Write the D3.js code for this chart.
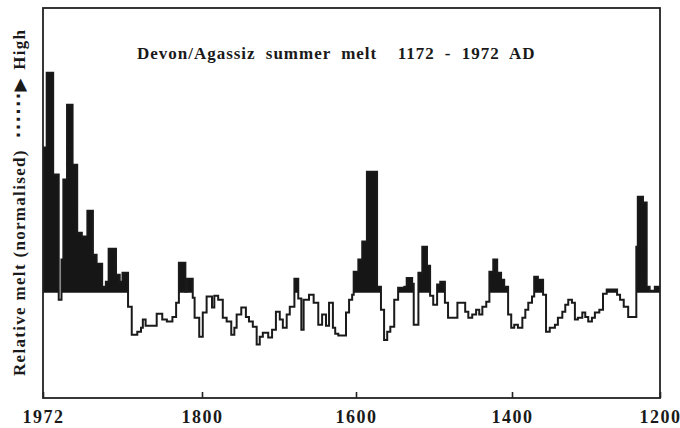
<!DOCTYPE html>
<html>
    <head>
        <meta charset="utf-8">
        <title>Devon/Agassiz summer melt</title>
        <style>
            body {
                margin: 0;
                background: #fff;
                font-family: "Liberation Serif", "DejaVu Serif", serif;
            }
            svg text {
                font-weight: bold;
                fill: #1a1a1a;
            }
        </style>
        <script src="https://d3js.org/d3.v7.min.js"></script>
    </head>
    <body>
        <svg></svg>
        <script>
            // step start years (AD) and relative melt, baseline = 0
            const years = [
                1972, 1968, 1961, 1955, 1952, 1950, 1946, 1940, 1935, 1930,
                1924, 1918, 1914, 1908, 1904, 1901, 1893, 1889, 1886, 1880,
                1876, 1870, 1866, 1864, 1861, 1849, 1843, 1838, 1832, 1828,
                1825, 1818, 1816, 1810, 1808, 1803, 1799, 1794, 1787, 1784,
                1779, 1773, 1768, 1762, 1758, 1755, 1749, 1743, 1739, 1734,
                1729, 1725, 1721, 1714, 1709, 1704, 1699, 1695, 1690, 1686,
                1680, 1675, 1671, 1668, 1661, 1655, 1649, 1644, 1639, 1635,
                1630, 1627, 1623, 1613, 1609, 1605, 1603, 1597, 1592, 1586,
                1573, 1568, 1564, 1560, 1556, 1551, 1546, 1538, 1535, 1528,
                1526, 1520, 1515, 1509, 1505, 1501, 1496, 1492, 1486, 1482,
                1470, 1460, 1456, 1451, 1446, 1442, 1438, 1433, 1429, 1424,
                1419, 1414, 1410, 1405, 1401, 1397, 1392, 1386, 1382, 1378,
                1373, 1370, 1365, 1358, 1354, 1349, 1342, 1338, 1332, 1328,
                1324, 1319, 1315, 1311, 1305, 1301, 1297, 1292, 1288, 1282,
                1277, 1272, 1258, 1254, 1249, 1243, 1232, 1230, 1223, 1218,
                1214, 1207
            ];
            const melt = [
                37.2, 56.4, 30.3, -1.8, 8.5, 29.0, 48.2, 32.8, 15.4, 14.4,
                21.0, 9.7, 7.4, 1.5, 2.8, 11.3, 4.6, 2.8, 5.1, -3.6,
                -10.8, -10.0, -9.0, -6.9, -8.5, -5.4, -6.9, -7.4, -6.2, -2.6,
                7.7, 0.3, 3.6, -1.3, -6.4, -11.3, -5.1, -1.0, -3.8, -0.8,
                -1.8, -6.4, -7.4, -10.8, -9.0, -5.6, -3.8, -6.2, -7.4, -8.7,
                -13.3, -11.3, -10.3, -11.5, -9.5, -4.9, -6.9, -9.0, -5.6, -3.6,
                3.6, -1.5, -9.5, -1.8, -0.5, -2.6, -8.2, -5.6, -8.5, -2.6,
                -9.0, -10.5, -11.0, -5.1, -1.8, -0.5, 5.4, 8.5, 13.1, 31.0,
                1.5, -4.4, -12.1, -10.0, -8.7, -1.8, 1.3, 1.5, 3.8, 2.3,
                -8.2, 5.1, 11.8, 6.9, -0.8, -3.1, 2.1, 2.8, -2.6, -6.4,
                -2.6, -4.9, -6.4, -5.6, -4.4, -5.6, -3.6, -2.3, 5.4, 8.5,
                5.1, 3.3, 1.5, -5.6, -9.0, -8.2, -9.0, -6.4, -4.4, -2.6,
                -1.0, 4.1, 3.3, -0.5, -10.0, -9.0, -8.2, -6.4, -4.9, -3.1,
                -1.8, -2.6, -6.9, -6.4, -5.1, -6.2, -7.4, -6.4, -5.1, -4.4,
                -0.3, 0.8, -0.5, -1.8, -3.6, -6.2, 11.8, 24.6, 23.1, 1.5,
                0.5, 1.5
            ];
            const endYear = 1200;
            const tickYears = [1972, 1800, 1600, 1400, 1200];

            const width = 680;
            const height = 428;
            const margin = {top: 8, right: 20, bottom: 30, left: 43};

            const svg = d3.select('svg')
                .attr('width', width)
                .attr('height', height);

            // the original axis is not evenly spaced, so use a polylinear scale
            const x = d3.scaleLinear()
                .domain(tickYears)
                .range([margin.left, 202, 356, 512, width - margin.right]);

            const y = d3.scaleLinear()
                .domain([-27, 73])
                .range([height - margin.bottom, margin.top]);

            const data = years.map((yr, i) => ({year: yr, v: melt[i]}));
            data.push({year: endYear, v: melt[melt.length - 1]});

            const area = d3.area()
                .curve(d3.curveStepAfter)
                .x(d => x(d.year))
                .y0(y(0))
                .y1(d => y(Math.max(0, d.v)));

            const line = d3.line()
                .curve(d3.curveStepAfter)
                .x(d => x(d.year))
                .y(d => y(d.v));

            svg.append('path')
                .datum(data)
                .attr('d', area)
                .attr('fill', '#161616');

            svg.append('path')
                .datum(data)
                .attr('d', line)
                .attr('fill', 'none')
                .attr('stroke', '#1a1a1a')
                .attr('stroke-width', 2);

            // frame
            svg.append('rect')
                .attr('x', margin.left)
                .attr('y', margin.top)
                .attr('width', width - margin.left - margin.right)
                .attr('height', height - margin.top - margin.bottom)
                .attr('fill', 'none')
                .attr('stroke', '#222')
                .attr('stroke-width', 1.8);

            const xAxis = svg.append('g')
                .attr('transform', 'translate(0,' + (height - margin.bottom) + ')')
                .call(d3.axisBottom(x)
                    .tickValues(tickYears)
                    .tickSizeInner(-6)
                    .tickSizeOuter(0)
                    .tickPadding(12)
                    .tickFormat(d3.format('d')));

            xAxis.select('.domain').remove();
            xAxis.selectAll('line').attr('stroke', '#222').attr('stroke-width', 1.6);
            xAxis.selectAll('text')
                .style('font-family', '"Liberation Serif", serif')
                .style('font-size', '18px')
                .style('font-weight', 'bold')
                .style('letter-spacing', '1.5px')
                .attr('fill', '#1a1a1a');

            // last label sits against the right edge of the page
            xAxis.selectAll('text')
                .filter(d => d === endYear)
                .attr('text-anchor', 'end')
                .attr('x', width - x(endYear) + 1);

            svg.append('text')
                .attr('x', 137)
                .attr('y', 59)
                .attr('textLength', 398)
                .attr('lengthAdjust', 'spacing')
                .style('white-space', 'pre')
                .style('font-size', '17px')
                .style('letter-spacing', '0.5px')
                .style('word-spacing', '5px')
                .text('Devon/Agassiz summer melt  1172 - 1972 AD');

            const yLabel = svg.append('text')
                .attr('transform', 'translate(25,376)rotate(-90)')
                .attr('textLength', 346)
                .attr('lengthAdjust', 'spacing')
                .style('white-space', 'pre')
                .style('font-size', '17px');
            yLabel.append('tspan').text('Relative melt (normalised)  ');
            yLabel.append('tspan').style('font-family', '"DejaVu Sans", sans-serif').text('······▶ ');
            yLabel.append('tspan').text('High');
        </script>
    </body>
</html>
